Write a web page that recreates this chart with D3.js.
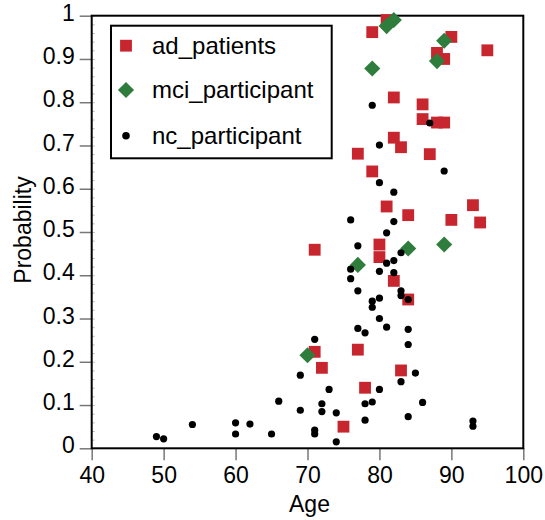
<!DOCTYPE html>
<html>
<head>
<meta charset="utf-8">
<script src="https://cdn.jsdelivr.net/npm/d3@7"></script>
<style>
  body { margin: 0; background: #fff; }
  svg { display: block; font-family: "Liberation Sans", Arial, Helvetica, sans-serif; }
</style>
</head>
<body>
<svg id="chart" width="545" height="520"></svg>
<script>
// ad patients (red squares)
const adAge  = [81, 79, 90, 95, 88, 89, 82, 86, 86, 88, 89, 82, 83, 77, 87, 79, 81, 84, 93, 90, 94, 71, 80, 80, 82, 84, 71, 72, 77, 83, 78, 75];
const adProb = [0.99, 0.962, 0.951, 0.92, 0.914, 0.90, 0.811, 0.795, 0.761, 0.753, 0.753, 0.718, 0.696, 0.681, 0.680, 0.640, 0.559, 0.539, 0.562, 0.528, 0.522, 0.459, 0.471, 0.442, 0.387, 0.344, 0.223, 0.186, 0.228, 0.180, 0.140, 0.050];

// mci participants (green diamonds)
const mciAge  = [81, 82, 89, 88, 79, 84, 89, 77, 70];
const mciProb = [0.976, 0.99, 0.942, 0.895, 0.878, 0.462, 0.471, 0.424, 0.215];

// nc participants (black dots)
const ncAge  = [79, 87, 80, 89, 80, 82, 76, 82, 81, 77, 83, 82, 81, 76, 80, 82, 76, 77, 83, 83, 80, 84, 79, 79, 80,
                81, 77, 78, 84, 84, 71, 69, 85, 73, 80, 83, 66, 72, 78, 79, 86, 69, 72, 74, 84, 78, 93, 93,
                54, 60, 62, 60, 65, 71, 71, 74, 49, 50];
const ncProb = [0.793, 0.752, 0.701, 0.641, 0.614, 0.592, 0.528, 0.524, 0.498, 0.468, 0.452, 0.434, 0.428, 0.414, 0.409, 0.406, 0.392, 0.364, 0.364, 0.353, 0.347, 0.344, 0.340, 0.326, 0.300,
                0.280, 0.277, 0.267, 0.275, 0.240, 0.252, 0.169, 0.174, 0.136, 0.136, 0.154, 0.109, 0.103, 0.103, 0.107, 0.106, 0.088, 0.085, 0.082, 0.073, 0.065, 0.063, 0.051,
                0.055, 0.059, 0.056, 0.033, 0.033, 0.042, 0.033, 0.015, 0.027, 0.022];

const xTicks = [40, 50, 60, 70, 80, 90, 100];
const yTicks = [0, 0.1, 0.2, 0.3, 0.4, 0.5, 0.6, 0.7, 0.8, 0.9, 1];
const yTickLabels = ["0", "0.1", "0.2", "0.3", "0.4", "0.5", "0.6", "0.7", "0.8", "0.9", "1"];
const legendNames = ["ad_patients", "mci_participant", "nc_participant"];

const red = "#c8262f", green = "#2f7d3d";

const svg = d3.select("#chart");
const L = 91.7, R = 523.3, T = 15.7, B = 448.3;

const x = d3.scaleLinear().domain([40, 100]).range([L, R]);
const y = d3.scaleLinear().domain([0, 1]).range([B, T]);

svg.append("rect").attr("width", 545).attr("height", 520).attr("fill", "#fff");

// minor ticks on y, inside
svg.append("g")
  .attr("transform", `translate(${L},0)`)
  .call(d3.axisRight(y).tickValues(d3.range(0, 1.001, 0.02)).tickSize(3).tickFormat(""))
  .call(g => g.select(".domain").remove())
  .call(g => g.selectAll("line").attr("stroke", "#bbb").attr("stroke-width", 1));

// x axis
svg.append("g")
  .attr("transform", `translate(0,${B})`)
  .call(d3.axisBottom(x).tickValues(xTicks).tickSize(12).tickPadding(6))
  .call(g => g.select(".domain").remove())
  .call(g => g.selectAll("line").attr("stroke", "#777").attr("stroke-width", 1.5))
  .call(g => g.selectAll("text").attr("font-size", 23).attr("fill", "#000").attr("font-family", null));

// y axis
svg.append("g")
  .attr("transform", `translate(${L},0)`)
  .call(d3.axisLeft(y).tickValues(yTicks).tickSize(12).tickPadding(5)
    .tickFormat((d, i) => yTickLabels[i]))
  .call(g => g.select(".domain").remove())
  .call(g => g.selectAll("line").attr("stroke", "#777").attr("stroke-width", 1.5))
  .call(g => g.selectAll("text").attr("font-size", 23).attr("fill", "#000").attr("dy", "0.2em").attr("font-family", null));

// frame
svg.append("rect")
  .attr("x", L).attr("y", T).attr("width", R - L).attr("height", B - T)
  .attr("fill", "none").attr("stroke", "#000").attr("stroke-width", 2);

// axis titles
svg.append("text")
  .attr("x", (L + R) / 2 + 2).attr("y", 512)
  .attr("text-anchor", "middle").attr("font-size", 23)
  .text("Age");

svg.append("text")
  .attr("transform", `translate(31,${(T + B) / 2 - 2}) rotate(-90)`)
  .attr("text-anchor", "middle").attr("font-size", 23)
  .text("Probability");

const sq = d3.symbol().type(d3.symbolSquare).size(140)();
const dm = d3.symbol().type(d3.symbolSquare).size(130)();

// points
svg.append("g").selectAll("path")
  .data(adAge.map((a, i) => [a, adProb[i]]))
  .join("path")
  .attr("d", sq)
  .attr("transform", d => `translate(${x(d[0])},${y(d[1])})`)
  .attr("fill", red);

svg.append("g").selectAll("path")
  .data(mciAge.map((a, i) => [a, mciProb[i]]))
  .join("path")
  .attr("d", dm)
  .attr("transform", d => `translate(${x(d[0])},${y(d[1])}) rotate(45)`)
  .attr("fill", green);

svg.append("g").selectAll("circle")
  .data(ncAge.map((a, i) => [a, ncProb[i]]))
  .join("circle")
  .attr("cx", d => x(d[0])).attr("cy", d => y(d[1]))
  .attr("r", 3.6)
  .attr("fill", "#000");

// legend
const lg = svg.append("g");
lg.append("rect")
  .attr("x", 111).attr("y", 25.7).attr("width", 220.7).attr("height", 132.6)
  .attr("fill", "#fff").attr("stroke", "#000").attr("stroke-width", 2);

const rowY = [45.7, 90, 135.7];
lg.append("path").attr("d", sq).attr("transform", `translate(126,${rowY[0]})`).attr("fill", red);
lg.append("path").attr("d", dm).attr("transform", `translate(126,${rowY[1]}) rotate(45)`).attr("fill", green);
lg.append("circle").attr("cx", 126).attr("cy", rowY[2]).attr("r", 3.8).attr("fill", "#000");

lg.selectAll("text.lab")
  .data(legendNames)
  .join("text")
  .attr("class", "lab")
  .attr("x", 152)
  .attr("y", (d, i) => rowY[i] + 8)
  .attr("font-size", 24)
  .text(d => d);
</script>
</body>
</html>
